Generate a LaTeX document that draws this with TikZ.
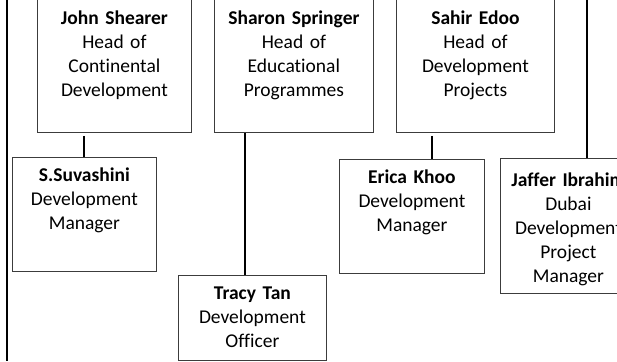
\documentclass[tikz,border=0pt]{standalone}
\usepackage{fontspec}
\setmainfont{Carlito}[Ligatures=NoCommon]
\usepackage{tikz}
\usetikzlibrary{positioning}
\tikzstyle{chart} = [x = 1pt, y = -1pt]
\definecolor{boxLine}{RGB}{60,60,60}
\tikzstyle{staffBoxStyle} = [draw=boxLine, line width=.8pt, fill=white, anchor=north west, inner sep=0pt, align=center, text height=24.5pt, font=\fontsize{19.5}{23.8}\selectfont]
\tikzstyle{headBoxStyle} = [text height=30.5pt]
\tikzstyle{connectorLine} = [color=black, line width=2pt]
\newcommand{\staffBox}[7][]{\node [staffBoxStyle, #1, text width=#5 pt, text depth=#6 pt - 24.5pt] (#2) at (#3, #4) {#7};}
\newcommand{\headBox}[6]{\node [staffBoxStyle, headBoxStyle, text width=#4 pt, text depth=#5 pt - 30.5pt] (#1) at (#2, #3) {#6};}
\begin{document}
\begin{tikzpicture}[chart]
  \useasboundingbox (0,0) rectangle (617,361);
  \clip (0,0) rectangle (617,361);

  \headBox{john}{37}{-6}{154}{138}{\textbf{John Shearer}\\Head of\\Continental\\Development}
  \headBox{sharon}{214}{-6}{159}{138}{\textbf{Sharon Springer}\\Head of\\Educational\\Programmes}
  \headBox{sahir}{396}{-6}{158}{138}{\textbf{Sahir Edoo}\\Head of\\Development\\Projects}

  \staffBox{suvashini}{12}{157}{144}{114}{\textbf{S.Suvashini}\\Development\\Manager}
  \staffBox{tracy}{178}{275}{148}{85}{\textbf{Tracy Tan}\\Development\\Officer}
  \staffBox{erica}{339}{159}{145}{114}{\textbf{Erica Khoo}\\Development\\Manager}
  \node [staffBoxStyle, text height=28.5pt, text width=136pt, text depth=106.5pt] (jaffer) at (500,158) {\textbf{Jaffer Ibrahim}\\Dubai\\Development\\Project\\Manager};

  \coordinate (leftTop) at (7,0);
  \coordinate (leftBottom) at (7,361);
  \coordinate (rightTop) at (587,0);

  \draw [connectorLine] (leftTop) -- (leftBottom);
  \draw [connectorLine] (rightTop) -- (rightTop |- jaffer.north);
  \draw [connectorLine, shorten <=3pt] (john.south -| suvashini.north) -- (suvashini.north);
  \draw [connectorLine] ([xshift=-7pt]tracy.north |- sharon.south) -- ([xshift=-7pt]tracy.north);
  \draw [connectorLine, shorten <=3pt] ([xshift=20.5pt]erica.north |- sahir.south) -- ([xshift=20.5pt]erica.north);
\end{tikzpicture}
\end{document}
